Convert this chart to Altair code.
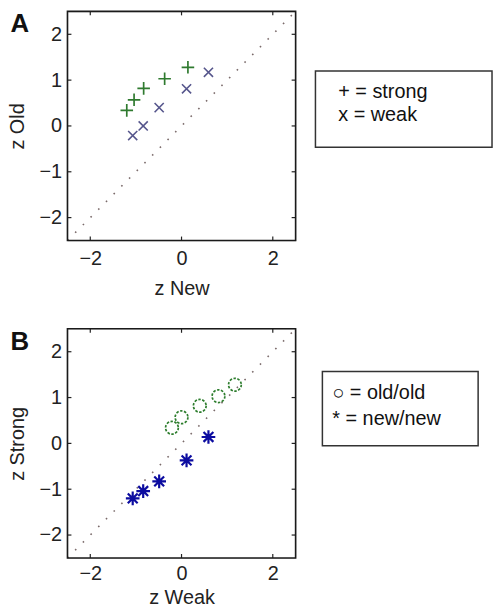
import altair as alt
import pandas as pd

# ---- data (z-scores) ----
new_strong = [-1.20, -1.04, -0.83, -0.37, 0.14]
old_strong = [0.34, 0.57, 0.82, 1.03, 1.28]
new_weak = [-1.07, -0.84, -0.49, 0.11, 0.59]
old_weak = [-0.21, 0.00, 0.40, 0.81, 1.17]

diag = [-2.5, 2.5]
x_ticks = [-2, 0, 2]
y_ticks = [-2, -1, 0, 1, 2]

legend_A = ["+ = strong", "x = weak"]
legend_B = ["\u25cb = old/old", "* = new/new"]

FONT = "Liberation Sans"
W = 230
H = 231
DOM = [-2.5, 2.5]

PLUS = "M-1,0L1,0M0,-1L0,1"
XMARK = "M-1,-1L1,1M1,-1L-1,1"
STAR = "M-1,0L1,0M0,-1L0,1M-0.72,-0.72L0.72,0.72M-0.72,0.72L0.72,-0.72"


def xs(title, lpad, tpad):
    return alt.X("x:Q", scale=alt.Scale(domain=DOM, nice=False, zero=False),
                 axis=alt.Axis(values=x_ticks, title=title, ticks=False, domain=False,
                               grid=False, labelFontSize=20, labelFont=FONT,
                               labelPadding=lpad, titleFontSize=20, titleFont=FONT,
                               titleFontWeight="normal", titlePadding=tpad,
                               labelColor="#222", titleColor="#222"))


def ys(title):
    return alt.Y("y:Q", scale=alt.Scale(domain=DOM, nice=False, zero=False),
                 axis=alt.Axis(values=y_ticks, title=title, ticks=False, domain=False,
                               grid=False, labelFontSize=20, labelFont=FONT,
                               labelPadding=6, titleFontSize=20, titleFont=FONT,
                               titleFontWeight="normal", titlePadding=12,
                               labelColor="#222", titleColor="#222"))


def panel(letter, xtitle, ytitle, s1, s2, legend, box, text_x, text_y, lpad, tpad):
    X = lambda: xs(xtitle, lpad, tpad)
    Y = lambda: ys(ytitle)
    dline = alt.Chart(pd.DataFrame({"x": diag, "y": diag})).mark_line(
        color="#7a6a6a", strokeWidth=1.6, strokeDash=[1.6, 9.4]).encode(x=X(), y=Y())
    layers = [dline]
    for (xv, yv, shape, color, size, sw, dash) in (s1, s2):
        m = dict(shape=shape, filled=False, color=color, size=size,
                 strokeWidth=sw, opacity=1)
        if dash:
            m["strokeDash"] = dash
        layers.append(alt.Chart(pd.DataFrame({"x": xv, "y": yv})).mark_point(**m).encode(
            x=X(), y=Y()))
    # inward ticks on all four sides
    xt = pd.DataFrame({"x": x_ticks})
    yt = pd.DataFrame({"y": y_ticks})
    rk = dict(color="#222", strokeWidth=1.2)
    layers.append(alt.Chart(xt).mark_rule(**rk).encode(x=X(), y=alt.value(H), y2=alt.value(H - 4)))
    layers.append(alt.Chart(xt).mark_rule(**rk).encode(x=X(), y=alt.value(0), y2=alt.value(4)))
    layers.append(alt.Chart(yt).mark_rule(**rk).encode(y=Y(), x=alt.value(0), x2=alt.value(4)))
    layers.append(alt.Chart(yt).mark_rule(**rk).encode(y=Y(), x=alt.value(W), x2=alt.value(W - 4)))
    # plot frame
    layers.append(alt.Chart(pd.DataFrame({"a": [0]})).mark_rect(
        fillOpacity=0, stroke="#1a1a1a", strokeWidth=1.6).encode(
        x=alt.value(0), x2=alt.value(W), y=alt.value(0), y2=alt.value(H)))
    # panel letter
    layers.append(alt.Chart(pd.DataFrame({"t": [letter]})).mark_text(
        font=FONT, fontSize=26, fontWeight="bold", align="center", baseline="middle",
        color="#111").encode(x=alt.value(-48), y=alt.value(13), text="t:N"))
    # legend box
    bx0, bx1, by0, by1 = box
    layers.append(alt.Chart(pd.DataFrame({"a": [0]})).mark_rect(
        fill="white", stroke="#333", strokeWidth=1.5).encode(
        x=alt.value(bx0), x2=alt.value(bx1), y=alt.value(by0), y2=alt.value(by1)))
    for i, t in enumerate(legend):
        layers.append(alt.Chart(pd.DataFrame({"t": [t]})).mark_text(
            font=FONT, fontSize=20, align="left", baseline="middle", color="#111").encode(
            x=alt.value(text_x), y=alt.value(text_y[i]), text="t:N"))
    return alt.layer(*layers).properties(width=W, height=H)


pA = panel("A", "z New", "z Old",
           (new_strong, old_strong, PLUS, "#2f7a2f", 160, 1.7, None),
           (new_weak, old_weak, XMARK, "#56568c", 85, 1.6, None),
           legend_A, (250, 428, 60, 137), 273, [81, 105], 8, 10)

pB = panel("B", "z Weak", "z Strong",
           (old_weak, old_strong, "circle", "#2d7d2d", 165, 1.7, [2.5, 1.5]),
           (new_weak, new_strong, STAR, "#0c0ca0", 190, 2.2, None),
           legend_B, (257, 414, 43, 118), 267, [65, 91], 6, 4)

chart = alt.vconcat(pA, pB, spacing=26).properties(
    padding={"left": 6, "top": 5, "right": 0, "bottom": 0}
).configure_view(stroke=None).configure(background="white")

chart.save("out.html", embed_options={"renderer": "svg", "actions": False})
